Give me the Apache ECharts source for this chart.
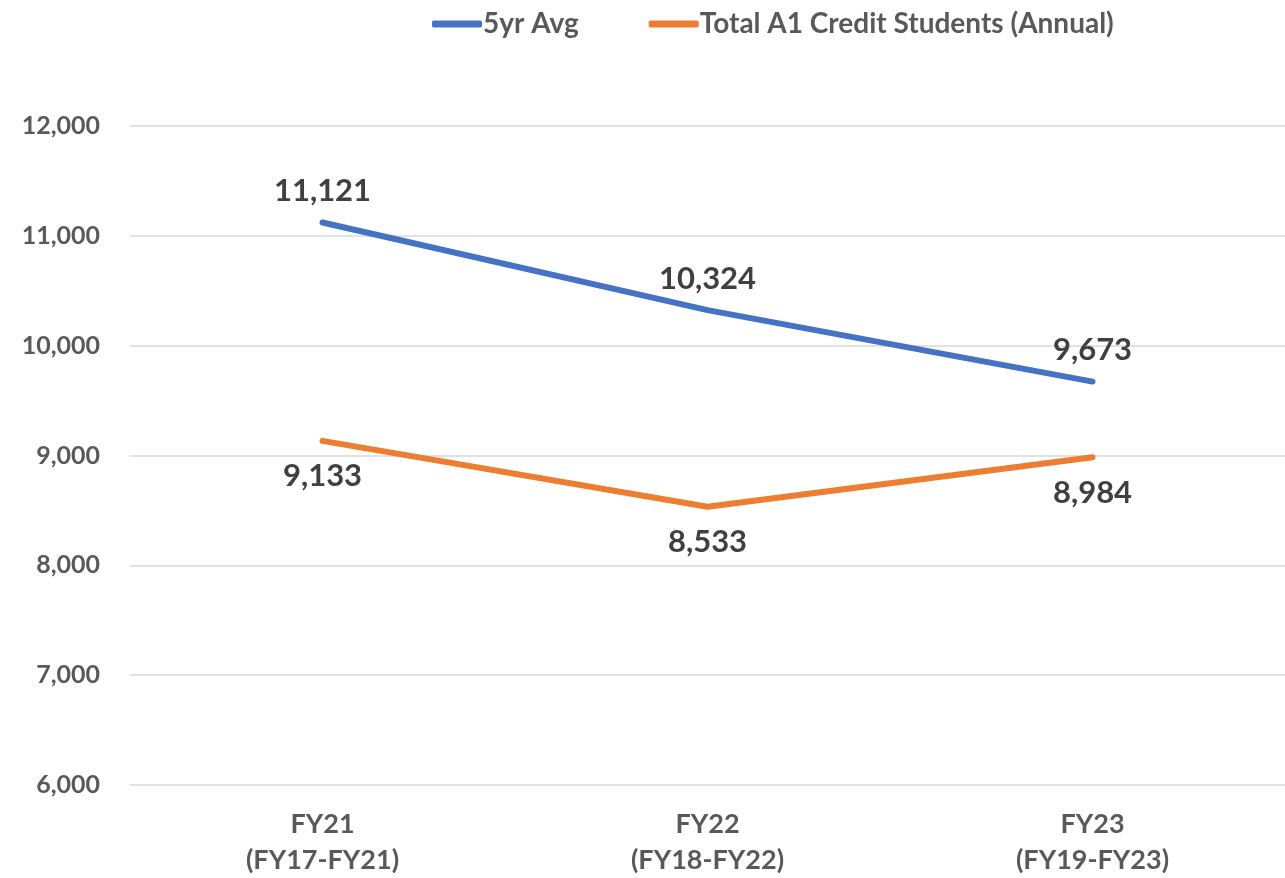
<!DOCTYPE html>
<html>
<head>
<meta charset="utf-8">
<script src="https://cdn.jsdelivr.net/npm/echarts@6/dist/echarts.min.js"></script>
<style>
  html, body { margin: 0; padding: 0; background: #fff; }
  #chart { width: 1285px; height: 878px; }
</style>
</head>
<body>
<div id="chart"></div>
<script>
var categories = ['FY21\n(FY17-FY21)', 'FY22\n(FY18-FY22)', 'FY23\n(FY19-FY23)'];
var avg5yr = [11121, 10324, 9673];
var totalA1 = [9133, 8533, 8984];
var seriesNames = ['5yr Avg', 'Total A1 Credit Students (Annual)'];

var chartDom = document.getElementById('chart');
var myChart = echarts.init(chartDom);

var fmt = function (v) { return v.toLocaleString('en-US'); };

var labelStyle = {
    show: true,
    fontFamily: 'Lato',
    fontWeight: 'bold',
    fontSize: 31,
    color: '#404040',
    formatter: function (p) { return fmt(p.value); }
};

var option = {
    animation: false,
    backgroundColor: '#ffffff',
    legend: {
        left: 427,
        top: 5,
        itemWidth: 50,
        itemHeight: 7,
        itemGap: 70,
        icon: 'roundRect',
        textStyle: {
            fontFamily: 'Lato',
            fontWeight: 'bold',
            fontSize: 28,
            color: '#595959',
            padding: [0, 0, 0, -4]
        },
        data: seriesNames
    },
    grid: {
        left: 130,
        right: 0,
        top: 126,
        bottom: 92
    },
    xAxis: {
        type: 'category',
        data: categories,
        boundaryGap: true,
        axisLine: { show: false },
        axisTick: { show: false },
        axisLabel: {
            margin: 21,
            fontFamily: 'Lato',
            fontWeight: 'bold',
            fontSize: 27,
            lineHeight: 36,
            color: '#595959'
        }
    },
    yAxis: {
        type: 'value',
        min: 6000,
        max: 12000,
        interval: 1000,
        axisLine: { show: false },
        axisTick: { show: false },
        splitLine: { lineStyle: { color: '#D9D9D9', width: 1.5 } },
        axisLabel: {
            margin: 30,
            fontFamily: 'Lato',
            fontWeight: 'bold',
            fontSize: 25,
            color: '#595959',
            formatter: fmt
        }
    },
    series: [
        {
            name: seriesNames[0],
            type: 'line',
            data: avg5yr,
            symbol: 'circle',
            symbolSize: 0,
            showSymbol: true,
            color: '#4472C4',
            lineStyle: { width: 6, cap: 'round', join: 'round' },
            label: Object.assign({}, labelStyle, { position: 'top', distance: 16 })
        },
        {
            name: seriesNames[1],
            type: 'line',
            data: totalA1,
            symbol: 'circle',
            symbolSize: 0,
            showSymbol: true,
            color: '#ED7D31',
            lineStyle: { width: 6, cap: 'round', join: 'round' },
            label: Object.assign({}, labelStyle, { position: 'bottom', distance: 20 })
        }
    ]
};

myChart.setOption(option);
</script>
</body>
</html>
